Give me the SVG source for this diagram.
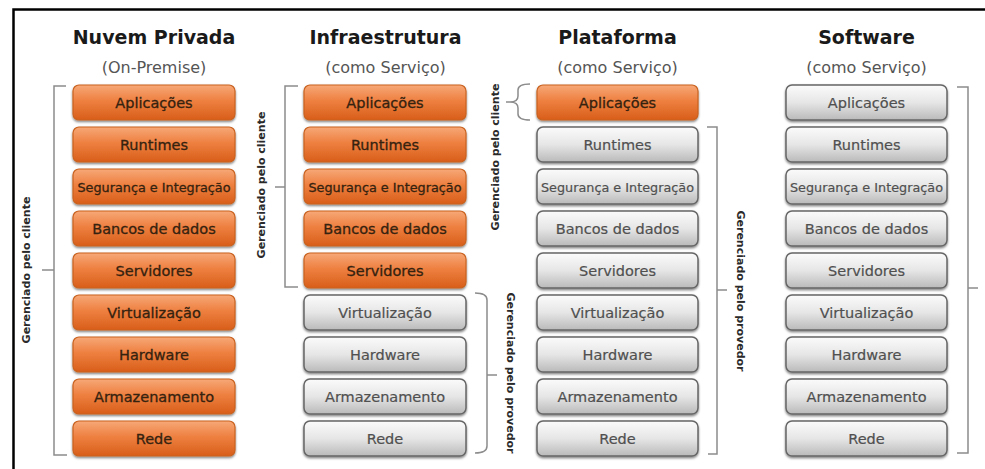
<svg xmlns="http://www.w3.org/2000/svg" width="985" height="469" viewBox="0 0 985 469">
<defs>
<linearGradient id="gOr" x1="0" y1="0" x2="0" y2="1">
<stop offset="0" stop-color="#f6a878"/>
<stop offset="0.45" stop-color="#ee8040"/>
<stop offset="1" stop-color="#d85e1a"/>
</linearGradient>
<linearGradient id="gGr" x1="0" y1="0" x2="0" y2="1">
<stop offset="0" stop-color="#fbfbfb"/>
<stop offset="0.5" stop-color="#e6e6e6"/>
<stop offset="1" stop-color="#bababa"/>
</linearGradient>
<filter id="sh" x="-5%" y="-10%" width="110%" height="130%">
<feDropShadow dx="0" dy="1.5" stdDeviation="1.2" flood-color="#000" flood-opacity="0.5"/>
</filter>
</defs>
<style>
.bg{fill:#ffffff}
.frame{stroke:#000;stroke-width:2.5;fill:none}
.title{font-family:"DejaVu Sans",Verdana,sans-serif;font-weight:bold;font-size:19px;fill:#1a1a1a;text-anchor:middle}
.sub{font-family:"DejaVu Sans",Verdana,sans-serif;font-size:16px;fill:#555;text-anchor:middle}
.or rect{fill:url(#gOr);stroke:#c9621f;stroke-width:1.2;filter:url(#sh)}
.gr rect{fill:url(#gGr);stroke:#666;stroke-width:1.5;filter:url(#sh)}
.or text{font-family:"DejaVu Sans",Verdana,sans-serif;font-size:14.5px;fill:#35220f;stroke:#35220f;stroke-width:0.3;text-anchor:middle}
.gr text{font-family:"DejaVu Sans",Verdana,sans-serif;font-size:14.5px;fill:#505050;stroke:#505050;stroke-width:0.2;text-anchor:middle}
text.sm{font-size:12.8px}
.br{fill:none;stroke:#8c8c8c;stroke-width:1.5}
.vl{font-family:"DejaVu Sans",Verdana,sans-serif;font-weight:bold;font-size:11px;fill:#2a2a2a;text-anchor:middle}
</style>
<rect class="bg" x="0" y="0" width="985" height="469"/>
<path class="frame" d="M13.5,469 V9.5 H985"/>

<g id="col1-header">
<text class="title" x="154" y="44">Nuvem Privada</text>
<text class="sub" x="154" y="73">(On-Premise)</text>
</g>
<g id="col2-header">
<text class="title" x="385.5" y="44">Infraestrutura</text>
<text class="sub" x="385.5" y="73">(como Serviço)</text>
</g>
<g id="col3-header">
<text class="title" x="617.5" y="44">Plataforma</text>
<text class="sub" x="617.5" y="73">(como Serviço)</text>
</g>
<g id="col4-header">
<text class="title" x="866.5" y="44">Software</text>
<text class="sub" x="866.5" y="73">(como Serviço)</text>
</g>

<!-- Column 1 -->
<g id="c1-aplicacoes" class="or"><rect x="73" y="85" width="162" height="35" rx="6"/><text x="154" y="108">Aplicações</text></g>
<g id="c1-runtimes" class="or"><rect x="73" y="127" width="162" height="35" rx="6"/><text x="154" y="150">Runtimes</text></g>
<g id="c1-seguranca" class="or"><rect x="73" y="169" width="162" height="35" rx="6"/><text class="sm" x="154" y="191.5">Segurança e Integração</text></g>
<g id="c1-bancos" class="or"><rect x="73" y="211" width="162" height="35" rx="6"/><text x="154" y="234">Bancos de dados</text></g>
<g id="c1-servidores" class="or"><rect x="73" y="253" width="162" height="35" rx="6"/><text x="154" y="276">Servidores</text></g>
<g id="c1-virtualizacao" class="or"><rect x="73" y="295" width="162" height="35" rx="6"/><text x="154" y="318">Virtualização</text></g>
<g id="c1-hardware" class="or"><rect x="73" y="337" width="162" height="35" rx="6"/><text x="154" y="360">Hardware</text></g>
<g id="c1-armazenamento" class="or"><rect x="73" y="379" width="162" height="35" rx="6"/><text x="154" y="402">Armazenamento</text></g>
<g id="c1-rede" class="or"><rect x="73" y="421" width="162" height="35" rx="6"/><text x="154" y="444">Rede</text></g>

<!-- Column 2 -->
<g id="c2-aplicacoes" class="or"><rect x="304" y="85" width="162" height="35" rx="6"/><text x="385" y="108">Aplicações</text></g>
<g id="c2-runtimes" class="or"><rect x="304" y="127" width="162" height="35" rx="6"/><text x="385" y="150">Runtimes</text></g>
<g id="c2-seguranca" class="or"><rect x="304" y="169" width="162" height="35" rx="6"/><text class="sm" x="385" y="191.5">Segurança e Integração</text></g>
<g id="c2-bancos" class="or"><rect x="304" y="211" width="162" height="35" rx="6"/><text x="385" y="234">Bancos de dados</text></g>
<g id="c2-servidores" class="or"><rect x="304" y="253" width="162" height="35" rx="6"/><text x="385" y="276">Servidores</text></g>
<g id="c2-virtualizacao" class="gr"><rect x="304" y="295" width="162" height="35" rx="6"/><text x="385" y="318">Virtualização</text></g>
<g id="c2-hardware" class="gr"><rect x="304" y="337" width="162" height="35" rx="6"/><text x="385" y="360">Hardware</text></g>
<g id="c2-armazenamento" class="gr"><rect x="304" y="379" width="162" height="35" rx="6"/><text x="385" y="402">Armazenamento</text></g>
<g id="c2-rede" class="gr"><rect x="304" y="421" width="162" height="35" rx="6"/><text x="385" y="444">Rede</text></g>

<!-- Column 3 -->
<g id="c3-aplicacoes" class="or"><rect x="537" y="85" width="161" height="35" rx="6"/><text x="617.5" y="108">Aplicações</text></g>
<g id="c3-runtimes" class="gr"><rect x="537" y="127" width="161" height="35" rx="6"/><text x="617.5" y="150">Runtimes</text></g>
<g id="c3-seguranca" class="gr"><rect x="537" y="169" width="161" height="35" rx="6"/><text class="sm" x="617.5" y="191.5">Segurança e Integração</text></g>
<g id="c3-bancos" class="gr"><rect x="537" y="211" width="161" height="35" rx="6"/><text x="617.5" y="234">Bancos de dados</text></g>
<g id="c3-servidores" class="gr"><rect x="537" y="253" width="161" height="35" rx="6"/><text x="617.5" y="276">Servidores</text></g>
<g id="c3-virtualizacao" class="gr"><rect x="537" y="295" width="161" height="35" rx="6"/><text x="617.5" y="318">Virtualização</text></g>
<g id="c3-hardware" class="gr"><rect x="537" y="337" width="161" height="35" rx="6"/><text x="617.5" y="360">Hardware</text></g>
<g id="c3-armazenamento" class="gr"><rect x="537" y="379" width="161" height="35" rx="6"/><text x="617.5" y="402">Armazenamento</text></g>
<g id="c3-rede" class="gr"><rect x="537" y="421" width="161" height="35" rx="6"/><text x="617.5" y="444">Rede</text></g>

<!-- Column 4 -->
<g id="c4-aplicacoes" class="gr"><rect x="786" y="85" width="161" height="35" rx="6"/><text x="866.5" y="108">Aplicações</text></g>
<g id="c4-runtimes" class="gr"><rect x="786" y="127" width="161" height="35" rx="6"/><text x="866.5" y="150">Runtimes</text></g>
<g id="c4-seguranca" class="gr"><rect x="786" y="169" width="161" height="35" rx="6"/><text class="sm" x="866.5" y="191.5">Segurança e Integração</text></g>
<g id="c4-bancos" class="gr"><rect x="786" y="211" width="161" height="35" rx="6"/><text x="866.5" y="234">Bancos de dados</text></g>
<g id="c4-servidores" class="gr"><rect x="786" y="253" width="161" height="35" rx="6"/><text x="866.5" y="276">Servidores</text></g>
<g id="c4-virtualizacao" class="gr"><rect x="786" y="295" width="161" height="35" rx="6"/><text x="866.5" y="318">Virtualização</text></g>
<g id="c4-hardware" class="gr"><rect x="786" y="337" width="161" height="35" rx="6"/><text x="866.5" y="360">Hardware</text></g>
<g id="c4-armazenamento" class="gr"><rect x="786" y="379" width="161" height="35" rx="6"/><text x="866.5" y="402">Armazenamento</text></g>
<g id="c4-rede" class="gr"><rect x="786" y="421" width="161" height="35" rx="6"/><text x="866.5" y="444">Rede</text></g>

<g id="connectors">
<path class="br" d="M66,86 H54 V455 H67 M42,270 H54"/>
<path class="br" d="M298,86 H285 V287 H298 M275,187 H285"/>
<path class="br" d="M475,293 Q487,293 487,300 V446 Q487,453 475,453 M487,375 H497"/>
<path class="br" d="M530,84 Q518,84 518,90 V96 Q518,102 510,102 Q518,102 518,108 V114 Q518,120 530,120 M506,102 H510"/>
<path class="br" d="M707,127 H717 V454 H708 M717,290 H727"/>
<path class="br" d="M957,87 H968 V453 H957 M968,288 H978"/>
</g>

<g id="bracket-labels">
<text class="vl" transform="translate(30,270) rotate(-90)">Gerenciado pelo cliente</text>
<text class="vl" transform="translate(265,185) rotate(-90)">Gerenciado pelo cliente</text>
<text class="vl" transform="translate(499,157) rotate(-90)">Gerenciado pelo cliente</text>
<text class="vl" transform="translate(507,373) rotate(90)">Gerenciado pelo provedor</text>
<text class="vl" transform="translate(737,291) rotate(90)">Gerenciado pelo provedor</text>
</g>
</svg>
